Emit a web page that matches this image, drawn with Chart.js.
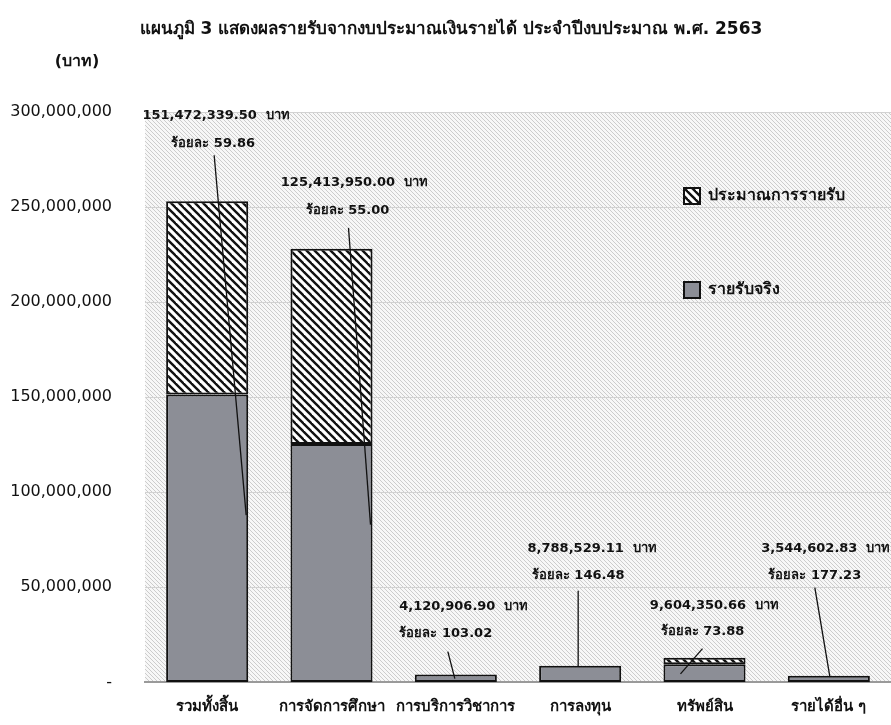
<!DOCTYPE html>
<html>
<head>
<meta charset="utf-8">
<script src="https://cdn.jsdelivr.net/npm/chart.js@4.4.1/dist/chart.umd.min.js"></script>
<style>
  html, body { margin: 0; padding: 0; background: #fff; }
  canvas { display: block; }
</style>
</head>
<body>
<canvas id="myChart" width="891" height="725"></canvas>
<script>
// data
var categories = ["รวมทั้งสิ้น", "การจัดการศึกษา", "การบริการวิชาการ", "การลงทุน", "ทรัพย์สิน", "รายได้อื่น ๆ"];
var actualIncome = [151472339.50, 125413950.00, 4120906.90, 8788529.11, 9604350.66, 3544602.83];
var budgetIncome = [253050000, 228030000, 4000000, 6000000, 13000000, 2000000];
var percentOfBudget = ["59.86", "55.00", "103.02", "146.48", "73.88", "177.23"];
var yTicks = [0, 50000000, 100000000, 150000000, 200000000, 250000000, 300000000];

var titleText = "แผนภูมิ 3 แสดงผลรายรับจากงบประมาณเงินรายได้ ประจำปีงบประมาณ พ.ศ. 2563";
var yTitleText = "(บาท)";
var legendBudget = "ประมาณการรายรับ";
var legendActual = "รายรับจริง";

// label / leader line placement, pixels relative to category centre and bar top
var labelStyle = [
    { dx1: 9, dy1: -86, dx2: 6, dy2: -58, sx: 7, sy: -46, ex: 39, ev: 88000000 },
    { dx1: 23, dy1: -66, dx2: 16, dy2: -38, sx: 17, sy: -21, ex: 39, ev: 83000000 },
    { dx1: 8, dy1: -68, dx2: -10, dy2: -41, sx: -8, sy: -23, ex: -1, ev: 2000000 },
    { dx1: 12, dy1: -117, dx2: -2, dy2: -90, sx: -2, sy: -75, ex: -2, ev: 8500000 },
    { dx1: 10, dy1: -52, dx2: -2, dy2: -26, sx: -2, sy: -9, ex: -24, ev: 4500000 },
    { dx1: -3, dy1: -127, dx2: -14, dy2: -100, sx: -14, sy: -88, ex: 1, ev: 3000000 }
];

var FONT = "'DejaVu Sans', 'Noto Sans', sans-serif";

// diagonal "\" stripes, lines run past the tile edges so corners join cleanly
function makeHatch(size, bg, fg, lw) {
    var c = document.createElement("canvas");
    c.width = size;
    c.height = size;
    var g = c.getContext("2d");
    if (bg) {
        g.fillStyle = bg;
        g.fillRect(0, 0, size, size);
    }
    g.strokeStyle = fg;
    g.lineWidth = lw;
    g.lineCap = "square";
    for (var k = -size; k <= size; k += size) {
        g.beginPath();
        g.moveTo(k - size, -size);
        g.lineTo(k + 2 * size, 2 * size);
        g.stroke();
    }
    return g.createPattern(c, "repeat");
}

document.addEventListener("DOMContentLoaded", function() {

    var ctx = document.getElementById("myChart").getContext("2d");

    var barHatch = makeHatch(8, "#ffffff", "#111111", 2.4);
    var bgHatch = makeHatch(4, "#f7f7f7", "#c6c6c6", 0.9);
    var grayFill = "#8c8e96";

    // part of the budget not yet reached sits on top of the actual bar
    var remainder = budgetIncome.map(function(b, i) {
        return Math.max(0, b - actualIncome[i]);
    });

    var decorPlugin = {
        id: "decor",
        beforeDraw: function(chart) {
            var c = chart.ctx;
            var a = chart.chartArea;
            c.save();
            c.fillStyle = "#ffffff";
            c.fillRect(0, 0, chart.width, chart.height);
            c.fillStyle = bgHatch;
            c.fillRect(a.left, a.top, a.right - a.left, a.bottom - a.top);
            c.restore();
        },
        afterDatasetsDraw: function(chart) {
            var c = chart.ctx;
            var xs = chart.scales.x;
            var ys = chart.scales.y;
            c.save();

            // value labels with leader lines
            for (var i = 0; i < categories.length; i++) {
                var st = labelStyle[i];
                var cx = xs.getPixelForValue(i);
                var top = ys.getPixelForValue(Math.max(budgetIncome[i], actualIncome[i]));

                c.strokeStyle = "#111";
                c.lineWidth = 1.3;
                c.beginPath();
                c.moveTo(cx + st.sx, top + st.sy);
                c.lineTo(cx + st.ex, ys.getPixelForValue(st.ev));
                c.stroke();

                var amount = actualIncome[i].toLocaleString("en-US", { minimumFractionDigits: 2, maximumFractionDigits: 2 });
                c.fillStyle = "#111";
                c.font = "bold 13px " + FONT;
                c.textAlign = "center";
                c.textBaseline = "middle";
                c.fillText(amount + "  บาท", cx + st.dx1, top + st.dy1);
                c.fillText("ร้อยละ " + percentOfBudget[i], cx + st.dx2, top + st.dy2);
            }

            // legend
            var items = [
                { text: legendBudget, fill: barHatch, y: 196 },
                { text: legendActual, fill: grayFill, y: 290 }
            ];
            items.forEach(function(it) {
                c.fillStyle = "#ffffff";
                c.fillRect(684, it.y - 8, 16, 16);
                c.fillStyle = it.fill;
                c.fillRect(684, it.y - 8, 16, 16);
                c.strokeStyle = "#111";
                c.lineWidth = 2;
                c.strokeRect(684, it.y - 8, 16, 16);
                c.fillStyle = "#111";
                c.font = "bold 16px " + FONT;
                c.textAlign = "left";
                c.textBaseline = "middle";
                c.fillText(it.text, 708, it.y);
            });

            // titles
            c.fillStyle = "#111";
            c.font = "bold 17px " + FONT;
            c.textAlign = "center";
            c.textBaseline = "middle";
            c.fillText(titleText, 451, 30);
            c.font = "bold 16px " + FONT;
            c.fillText(yTitleText, 77, 62);
            c.restore();
        }
    };

    var data = {
        labels: categories,
        datasets: [{
            label: legendActual,
            data: actualIncome,
            backgroundColor: grayFill,
            borderColor: "#111111",
            borderWidth: 2,
            borderSkipped: false
        }, {
            label: legendBudget,
            data: remainder,
            backgroundColor: barHatch,
            borderColor: "#111111",
            borderWidth: 2,
            borderSkipped: false
        }]
    };

    var options = {
        responsive: false,
        animation: false,
        devicePixelRatio: 1,
        layout: { padding: { top: 112, right: 0, left: 0, bottom: 0 } },
        plugins: {
            legend: { display: false },
            tooltip: { enabled: false }
        },
        datasets: {
            bar: { barPercentage: 0.66, categoryPercentage: 1.0 }
        },
        scales: {
            x: {
                stacked: true,
                grid: { display: false },
                border: { display: true, color: "#9a9a9a", width: 2 },
                ticks: {
                    color: "#111",
                    font: { family: FONT, size: 15, weight: "bold" },
                    padding: 8,
                    maxRotation: 0,
                    autoSkip: false
                },
                afterFit: function(axis) { axis.height = 36; }
            },
            y: {
                stacked: true,
                min: 0,
                max: yTicks[yTicks.length - 1],
                afterBuildTicks: function(axis) {
                    axis.ticks = yTicks.map(function(v) { return { value: v }; });
                },
                grid: { color: "#d2d2d2", drawTicks: false },
                border: { display: false },
                ticks: {
                    color: "#111",
                    font: { family: FONT, size: 16 },
                    padding: 33,
                    callback: function(v) {
                        return v === 0 ? "-" : v.toLocaleString("en-US");
                    }
                },
                afterFit: function(axis) { axis.width = 145; }
            }
        }
    };

    var myNewChart = new Chart(ctx, {
        type: "bar",
        data: data,
        options: options,
        plugins: [decorPlugin]
    });
});
</script>
</body>
</html>
